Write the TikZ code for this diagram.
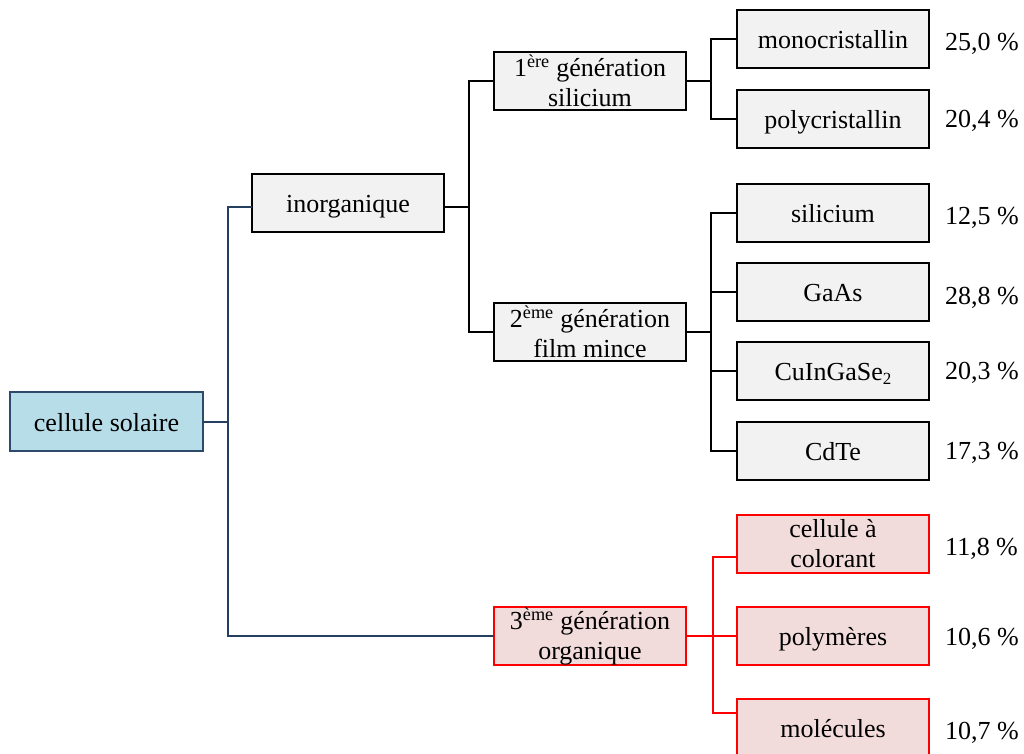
\documentclass[tikz,border=0pt]{standalone}
\usepackage{fontspec}
\setmainfont{Liberation Serif}
\usetikzlibrary{calc}
\definecolor{bluefill}{HTML}{B7DDE8}
\definecolor{blueline}{HTML}{2E4A6B}
\definecolor{navy}{HTML}{243F60}
\definecolor{grayfill}{HTML}{F2F2F2}
\definecolor{pinkfill}{HTML}{F2DCDB}
\definecolor{redline}{HTML}{FF0000}
\tikzset{
  box/.style={draw=black, line width=2pt, fill=grayfill, minimum width=192pt, minimum height=58pt, inner sep=0pt, outer sep=0pt, align=center, font=\fontsize{26}{30}\selectfont},
  one/.style={text height=19pt, text depth=0pt},
  rootbox/.style={box, draw=blueline, fill=bluefill, minimum width=193pt, minimum height=59pt},
  redbox/.style={box, draw=redline, fill=pinkfill},
  pct/.style={anchor=west, inner sep=0pt, text height=18pt, text depth=0pt, font=\fontsize{26}{30}\selectfont},
  blk/.style={draw=black, line width=2pt},
  nav/.style={draw=navy, line width=2pt},
  rd/.style={draw=redline, line width=2pt},
}
\begin{document}
\begin{tikzpicture}[x=1pt,y=-1pt]
\useasboundingbox (0,0) rectangle (1024,753);
\coordinate (jr) at (228,422);
\coordinate (ji) at (469,207);
\coordinate (j1) at (711,81);
\coordinate (j2) at (711,332);
\coordinate (j3) at (713,636);

\node[rootbox, one] (cs) at (106.5,421.5) {cellule solaire};
\node[box, one] (inorg) at (348,203) {inorganique};
\node[box] (g1) at (590,81) {1\textsuperscript{ère} génération\\silicium};
\node[box] (g2) at (590,332) {2\textsuperscript{ème} génération\\film mince};
\node[redbox] (g3) at (590,636) {3\textsuperscript{ème} génération\\organique};

\node[box, one] (mono) at (833,39) {monocristallin};
\node[box, one] (poly) at (833,119) {polycristallin};
\node[box, one] (si) at (833,213) {silicium};
\node[box, one] (gaas) at (833,292) {GaAs};
\node[box, one] (cigs) at (833,371) {CuInGaSe\raisebox{-0.3ex}{\fontsize{17}{17}\selectfont 2}};
\node[box, one] (cdte) at (833,451) {CdTe};
\node[redbox] (col) at (833,544) {cellule à\\colorant};
\node[redbox, one] (polym) at (833,636) {polymères};
\node[redbox, one] (mol) at (833,728) {molécules};

\node[pct] (p1) at (945,41) {25,0 \%};
\node[pct] (p2) at (945,118) {20,4 \%};
\node[pct] (p3) at (945,215) {12,5 \%};
\node[pct] (p4) at (945,295) {28,8 \%};
\node[pct] (p5) at (945,370) {20,3 \%};
\node[pct] (p6) at (945,450) {17,3 \%};
\node[pct] (p7) at (945,546) {11,8 \%};
\node[pct] (p8) at (945,636) {10,6 \%};
\node[pct] (p9) at (945,730) {10,7 \%};

% root connectors
\draw[nav] ([yshift=-0.5pt]cs.east) -- (jr);
\draw[nav] ([yshift=-4pt]inorg.west) -| (jr);
\draw[nav] (g3.west) -| (jr);

% inorganique connectors
\draw[blk] ([yshift=-4pt]inorg.east) -- (ji);
\draw[blk] (g1.west) -| (ji);
\draw[blk] (g2.west) -| (ji);

% 1ere generation
\draw[blk] (g1.east) -- (j1);
\draw[blk] (mono.west) -| (j1);
\draw[blk] (poly.west) -| (j1);

% 2eme generation
\draw[blk] (g2.east) -- (j2);
\draw[blk] (si.west) -| (j2);
\draw[blk] (gaas.west) -| (j2);
\draw[blk] (cigs.west) -| (j2);
\draw[blk] (cdte.west) -| (j2);

% 3eme generation
\draw[rd] (g3.east) -- (j3);
\draw[rd] ([yshift=-13pt]col.west) -| (j3);
\draw[rd] (polym.west) -| (j3);
\draw[rd] ([yshift=15pt]mol.west) -| (j3);
\end{tikzpicture}
\end{document}
